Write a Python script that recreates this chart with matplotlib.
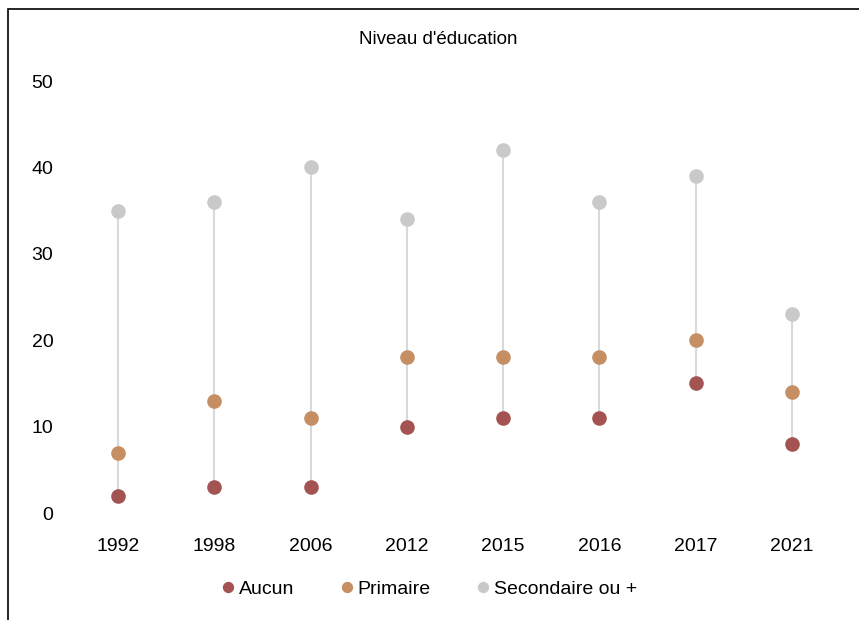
import numpy as np
import matplotlib.pyplot as plt
from matplotlib.patches import Rectangle
from matplotlib import font_manager

# ── Data ─────────────────────────────────────────────────────────────────────

years      = ["1992", "1998", "2006", "2012", "2015", "2016", "2017", "2021"]
aucun      = [2, 3, 3, 10, 11, 11, 15, 8]
primaire   = [7, 13, 11, 18, 18, 18, 20, 14]
secondaire = [35, 36, 40, 34, 42, 36, 39, 23]

series = [
    ("Aucun", aucun, "#a35452"),
    ("Primaire", primaire, "#c68e63"),
    ("Secondaire ou +", secondaire, "#c9c9c9"),
]

# ── Font ─────────────────────────────────────────────────────────────────────

names = {f.name for f in font_manager.fontManager.ttflist}
family = "Liberation Sans Narrow" if "Liberation Sans Narrow" in names else "Liberation Sans"
plt.rcParams["font.family"] = [family, "DejaVu Sans"]

# ── Plot ─────────────────────────────────────────────────────────────────────

fig = plt.figure(figsize=(8.59, 6.2), dpi=100)
ax = fig.add_axes([70 / 859, 1 - 513 / 620, 770 / 859, 432 / 620])

x = np.arange(len(years))
lo = np.minimum.reduce([aucun, primaire, secondaire])
hi = np.maximum.reduce([aucun, primaire, secondaire])
ax.vlines(x, lo, hi, color="#d9d9d9", linewidth=1.5, zorder=1)

for label, vals, color in series:
    ax.plot(x, vals, "o", color=color, markersize=9.5, label=label, zorder=2)

ax.set_xlim(-0.5, len(years) - 0.5)
ax.set_ylim(0, 50)
ax.set_yticks(range(0, 51, 10))
ax.set_xticks(x)
ax.set_xticklabels(years)
ax.tick_params(length=0, labelsize=14)
ax.tick_params(axis="y", pad=12)
ax.tick_params(axis="x", pad=18)
for s in ax.spines.values():
    s.set_visible(False)

fig.text(438 / 859, 1 - 39 / 620, "Niveau d'éducation", ha="center", va="center", fontsize=13.5)

fig.legend(loc="center", bbox_to_anchor=(428 / 859, 1 - 589 / 620), ncol=3,
           frameon=False, fontsize=14, handletextpad=0.05, columnspacing=2.2,
           markerscale=0.75, handlelength=1.0)

# frame: left and top edges visible
fig.patches.append(Rectangle((8 / 859, -0.1), 1.2, 1 - 9 / 620 + 0.1,
                             transform=fig.transFigure, fill=False,
                             edgecolor="black", linewidth=1.2))

fig.savefig("out.png", dpi=100)
